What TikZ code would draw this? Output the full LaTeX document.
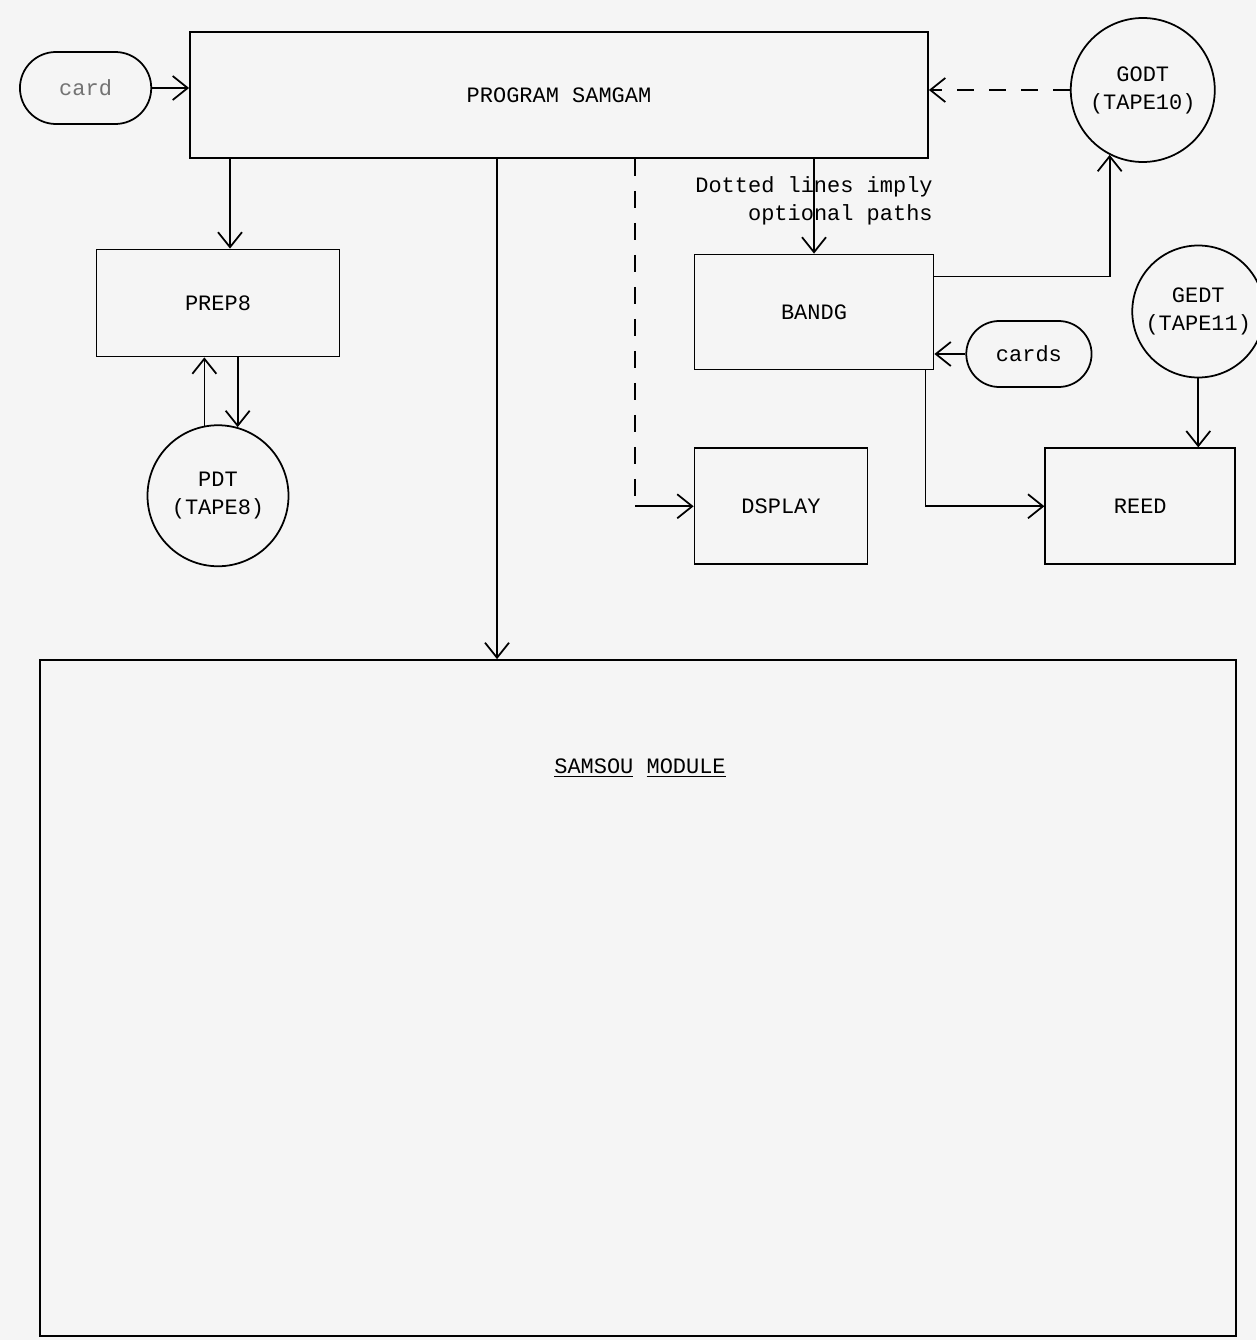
\documentclass[tikz,border=0pt]{standalone}
\usepackage{fontspec}
\setmainfont{Liberation Mono}
\usetikzlibrary{arrows.meta,positioning,shapes.misc}

\begin{document}
\begin{tikzpicture}[
  x=0.2mm, y=-0.2mm,
  font=\fontsize{12.5}{16}\selectfont,
  box/.style={draw, line width=1pt, align=center, inner sep=3pt},
  pill/.style={draw, rounded rectangle, line width=1pt, align=center},
  tape/.style={draw, circle, line width=1pt, align=center, inner sep=1pt},
  arr/.style={-{Straight Barb[length=3mm,width=4.8mm]}, line width=1pt},
  optline/.style={line width=1pt, dash pattern=on 3.4mm off 3mm}
]
\fill[black!4] (0,0) rectangle (1256,1340);
\useasboundingbox (0,0) rectangle (1256,1340);

\node[box, minimum width=147.6mm, minimum height=25.2mm] (samgam) at (559,95) {PROGRAM SAMGAM};
\node[pill, minimum width=28.6mm, minimum height=14.4mm, left=7.4mm of samgam, yshift=1.4mm, text=black!55] (card) {card};
\node[tape, minimum size=28.8mm, right=28.2mm of samgam, yshift=1mm] (godt) {GODT\\(TAPE10)};
\node[box, minimum width=48.6mm, minimum height=21.4mm] (prep8) at (218,303) {PREP8};
\node[tape, minimum size=28.2mm, below=13.4mm of prep8] (pdt) {PDT\\(TAPE8)};
\node[box, minimum width=47.8mm, minimum height=23mm] (bandg) at (814,312) {BANDG};
\node[pill, minimum width=27.4mm, minimum height=13.2mm, right=6.2mm of bandg, yshift=-8.4mm] (cards) {cards};
\node[box, minimum width=34.6mm, minimum height=23.2mm, below right=15.4mm and 0mm of bandg.south west] (dsplay) {DSPLAY};
\node[box, minimum width=38mm, minimum height=23.2mm, right=35.2mm of dsplay] (reed) {REED};
\node[tape, minimum size=26.4mm, above=13.8mm of reed.north, xshift=11.6mm] (gedt) {GEDT\\(TAPE11)};
\node[box, minimum width=239.2mm, minimum height=135.2mm] (samsou) at (638,998) {};
\node (samsoutitle) at (640,768) {\underline{SAMSOU} \underline{MODULE}};

% turning points of the connectors
\coordinate (prepin) at ([xshift=2.4mm]prep8.north);
\coordinate (souin) at ([xshift=-12.4mm]samgam.south);
\coordinate (dspout) at ([xshift=15.2mm]samgam.south);
\coordinate (dspturn) at (dspout |- dsplay.west);
\coordinate (reedout) at ([xshift=-1.8mm]bandg.south east);
\coordinate (godtout) at ([yshift=7.1mm]bandg.east);

\draw[arr] (card.east) -- (card.east -| samgam.west);
\draw[arr, optline] (godt.west) -- (godt.west -| samgam.east);
\draw[arr] (prepin |- samgam.south) -- (prepin);
\draw[arr] (souin) -- (souin |- samsou.north);
\draw[optline] (dspout) -- (dspturn);
\draw[arr] (dspturn) -- (dsplay.west);
\draw[arr] (bandg.north |- samgam.south) -- (bandg.north);
\draw[arr] (godtout) -| (godt.243);
\draw[arr] (cards.west) -- (cards.west -| bandg.east);
\draw[arr] (reedout) |- (reed.west);
\draw[arr] (gedt.south) -- (gedt.south |- reed.north);
\draw[arr] (pdt.101) -- (pdt.101 |- prep8.south);
\draw[arr] (pdt.74 |- prep8.south) -- (pdt.74);

\node[align=right] (note) at (814,201) {Dotted lines imply\\optional paths};
\end{tikzpicture}
\end{document}
